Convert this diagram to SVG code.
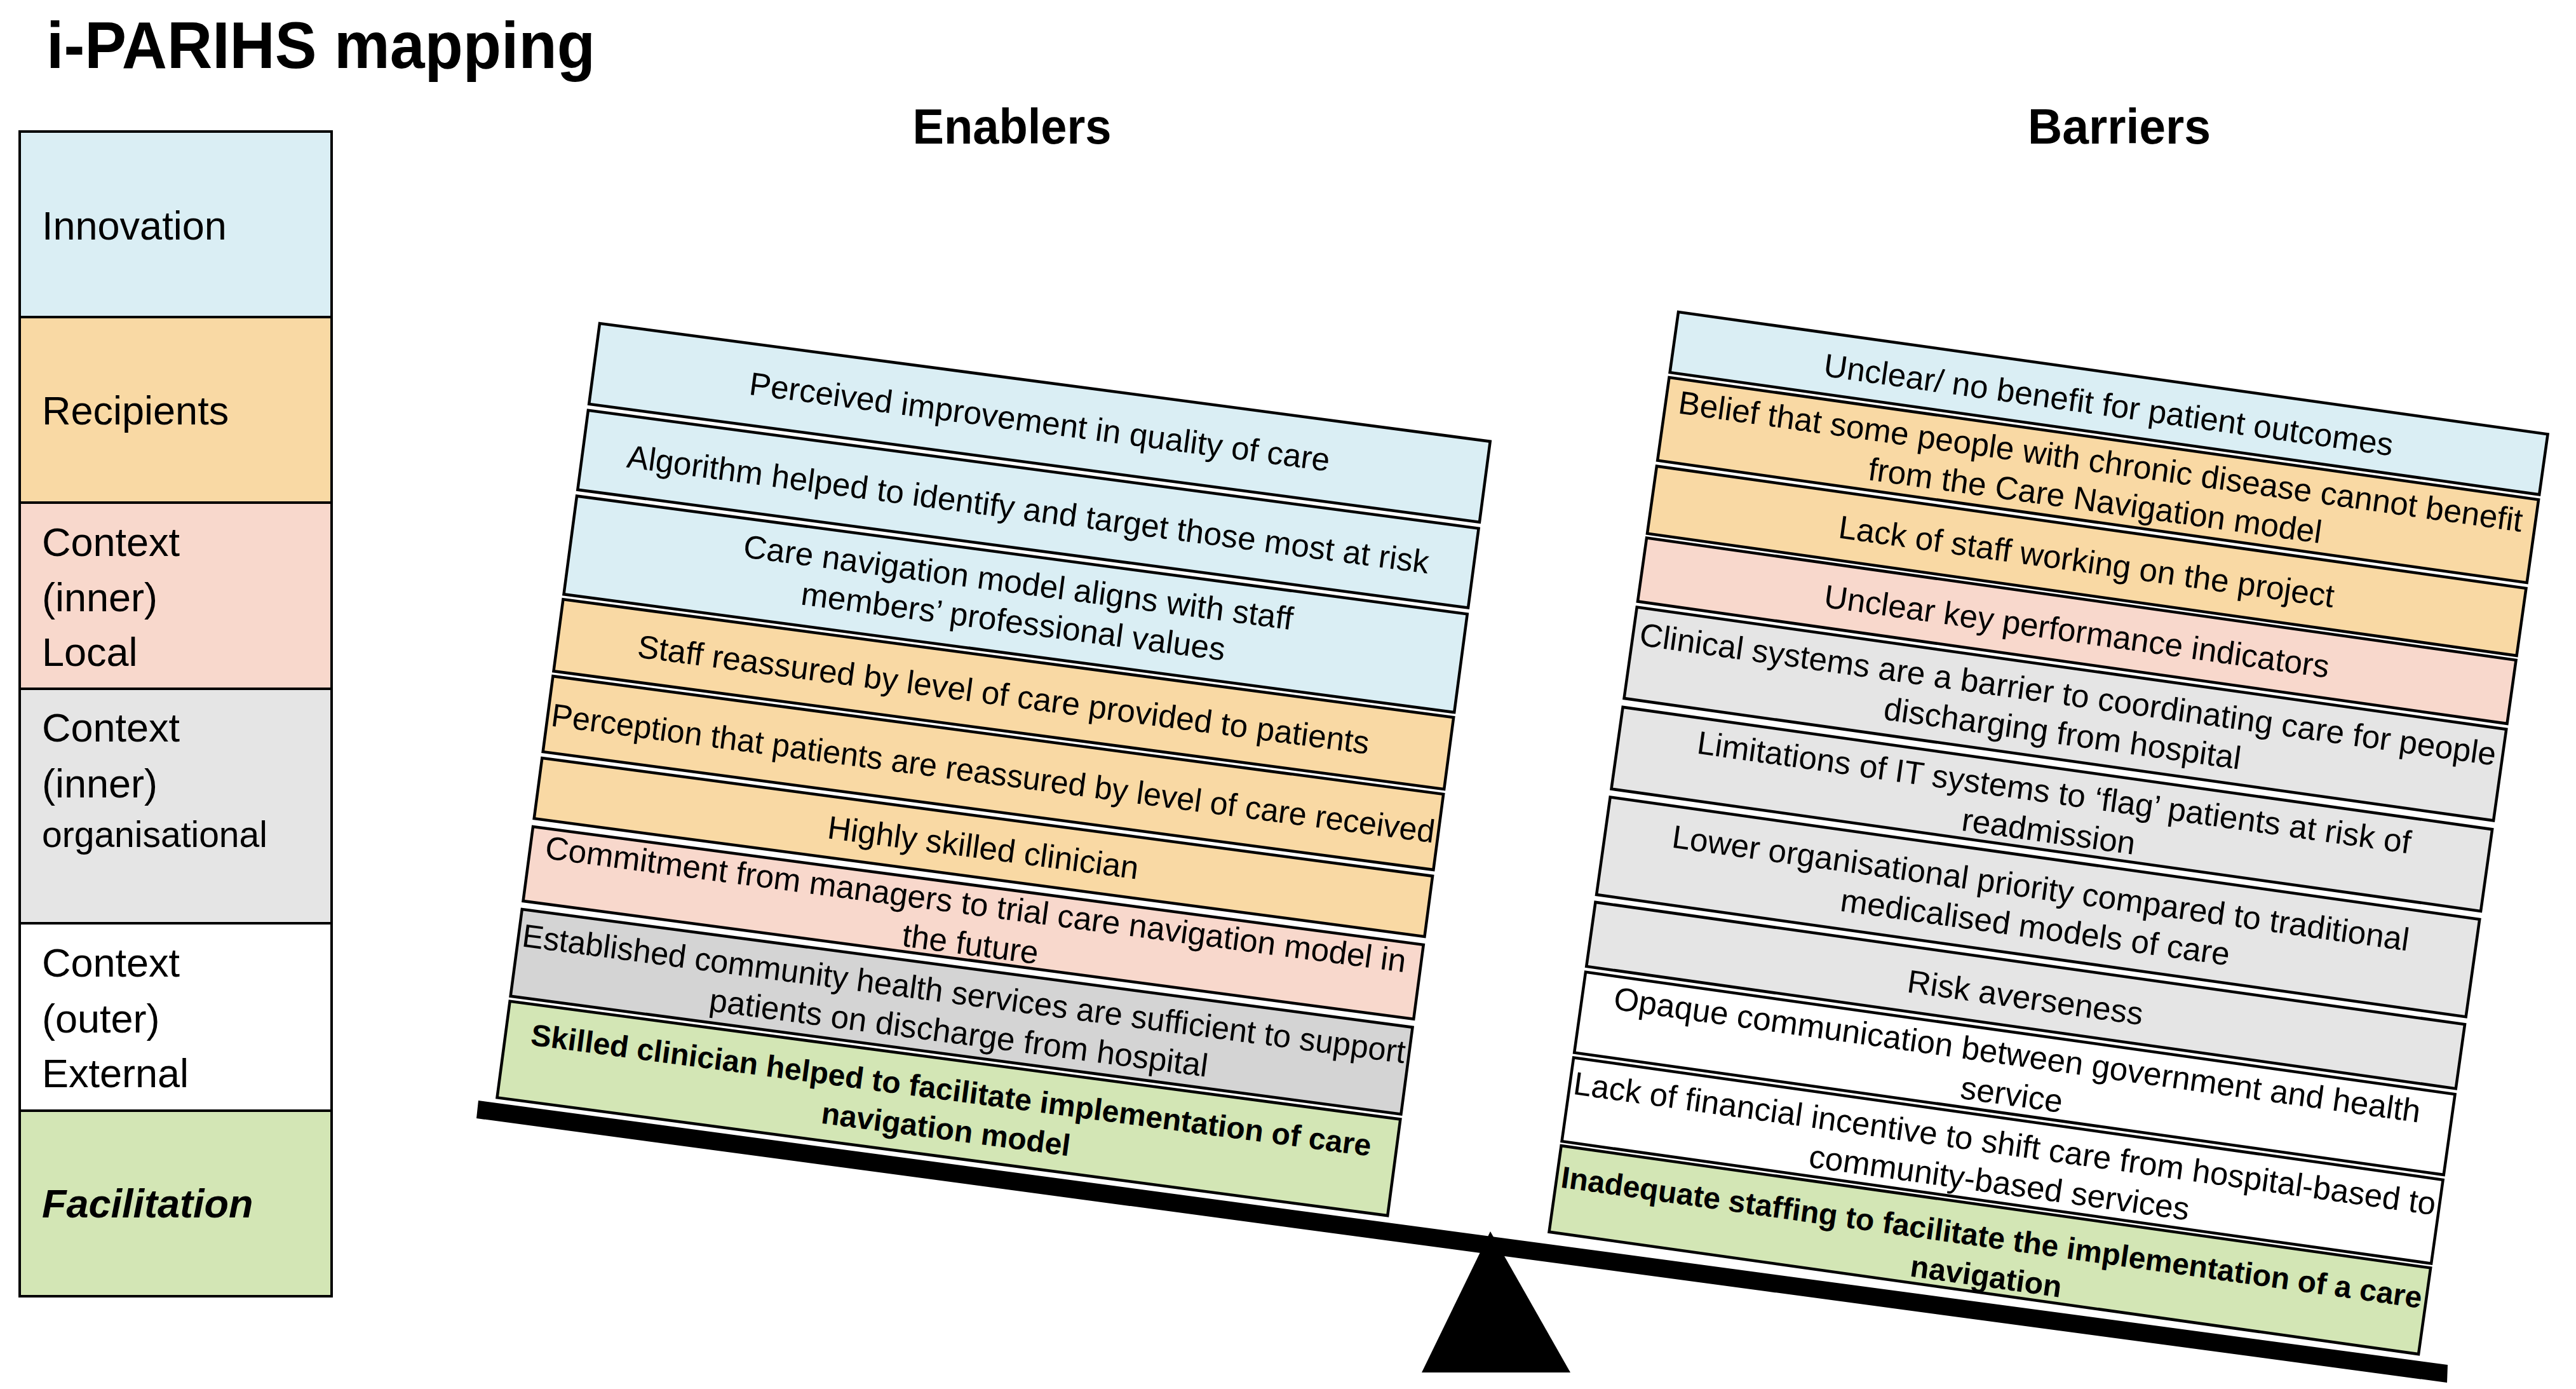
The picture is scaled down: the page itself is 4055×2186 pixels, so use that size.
<svg xmlns="http://www.w3.org/2000/svg" width="4055" height="2186" viewBox="0 0 4055 2186">
<style>
text{font-family:"Liberation Sans",Arial,sans-serif;fill:#000}
.title{font-size:104px;font-weight:bold}
.head{font-size:78px;font-weight:bold;text-anchor:middle}
.leg{font-size:63px}
.leg-s{font-size:57px}
.leg-b{font-size:63px;font-weight:bold;font-style:italic}
.box{stroke:#000;stroke-width:4.5}
.lbox{stroke:#000;stroke-width:4}
.t{font-size:51px;text-anchor:middle}
.tb{font-size:48px;font-weight:bold;text-anchor:middle}
.inn{fill:#DAEEF4}
.rec{fill:#F9D9A4}
.loc{fill:#F8D8CC}
.org{fill:#E5E5E5}
.org2{fill:#D4D4D4}
.ext{fill:#FFFFFF}
.fac{fill:#D3E6B5}
</style>
<rect width="4055" height="2186" fill="#fff"/>
<text class="title" x="73" y="107" textLength="864" lengthAdjust="spacingAndGlyphs">i-PARIHS mapping</text>
<text class="head" x="1593" y="226" textLength="313" lengthAdjust="spacingAndGlyphs">Enablers</text>
<text class="head" x="3336" y="226" textLength="288" lengthAdjust="spacingAndGlyphs">Barriers</text>

<g id="legend">
  <g id="leg-innovation"><rect class="lbox inn" x="31" y="207" width="491" height="292"/><text class="leg" x="66" y="377">Innovation</text></g>
  <g id="leg-recipients"><rect class="lbox rec" x="31" y="499" width="491" height="292"/><text class="leg" x="66" y="668">Recipients</text></g>
  <g id="leg-local"><rect class="lbox loc" x="31" y="791" width="491" height="293"/><text class="leg" x="66" y="875">Context</text><text class="leg" x="66" y="962">(inner)</text><text class="leg" x="66" y="1048">Local</text></g>
  <g id="leg-organisational"><rect class="lbox org" x="31" y="1084" width="491" height="369"/><text class="leg" x="66" y="1167">Context</text><text class="leg" x="66" y="1255">(inner)</text><text class="leg-s" x="66" y="1333">organisational</text></g>
  <g id="leg-external"><rect class="lbox ext" x="31" y="1453" width="491" height="295"/><text class="leg" x="66" y="1537">Context</text><text class="leg" x="66" y="1625">(outer)</text><text class="leg" x="66" y="1711">External</text></g>
  <g id="leg-facilitation"><rect class="lbox fac" x="31" y="1748" width="491" height="292"/><text class="leg-b" x="66" y="1916">Facilitation</text></g>
</g>

<g id="balance">
  <polygon points="2346,1938 2238,2160 2472,2160" fill="#000"/>
  <polygon points="753,1732 3853,2148 3852,2176 750,1760" fill="#000"/>
</g>

<g id="enablers" transform="translate(944,509) rotate(7.55)">
  <g id="e1"><rect class="box inn" x="0" y="0" width="1414" height="128"/><text class="t" x="707" y="80">Perceived improvement in quality of care</text></g>
  <g id="e2"><rect class="box inn" x="0" y="138" width="1414" height="126"/><text class="t" x="707" y="219">Algorithm helped to identify and target those most at risk</text></g>
  <g id="e3"><rect class="box inn" x="0" y="274" width="1414" height="156"/><text class="t" x="707" y="335">Care navigation model aligns with staff</text><text class="t" x="707" y="397">members’ professional values</text></g>
  <g id="e4"><rect class="box rec" x="0" y="438" width="1414" height="114"/><text class="t" x="707" y="513">Staff reassured by level of care provided to patients</text></g>
  <g id="e5"><rect class="box rec" x="0" y="560" width="1414" height="120"/><text class="t" x="707" y="638" textLength="1402" lengthAdjust="spacingAndGlyphs">Perception that patients are reassured by level of care received</text></g>
  <g id="e6"><rect class="box rec" x="0" y="690" width="1414" height="96"/><text class="t" x="707" y="756">Highly skilled clinician</text></g>
  <g id="e7"><rect class="box loc" x="0" y="799" width="1414" height="118"/><text class="t" x="707" y="846">Commitment from managers to trial care navigation model in</text><text class="t" x="707" y="909">the future</text></g>
  <g id="e8"><rect class="box org2" x="0" y="930" width="1414" height="138"/><text class="t" x="707" y="988" textLength="1402" lengthAdjust="spacingAndGlyphs">Established community health services are sufficient to support</text><text class="t" x="707" y="1050">patients on discharge from hospital</text></g>
  <g id="e9"><rect class="box fac" x="0" y="1076" width="1414" height="153"/><text class="tb" x="707" y="1140">Skilled clinician helped to facilitate implementation of care</text><text class="tb" x="707" y="1202">navigation model</text></g>
</g>

<g id="barriers" transform="translate(2642,491) rotate(8)">
  <g id="b1"><rect class="box inn" x="0" y="0" width="1382" height="96"/><text class="t" x="691" y="68">Unclear/ no benefit for patient outcomes</text></g>
  <g id="b2"><rect class="box rec" x="0" y="104" width="1382" height="132"/><text class="t" x="691" y="158">Belief that some people with chronic disease cannot benefit</text><text class="t" x="691" y="220">from the Care Navigation model</text></g>
  <g id="b3"><rect class="box rec" x="0" y="245" width="1382" height="107"/><text class="t" x="691" y="317">Lack of staff working on the project</text></g>
  <g id="b4"><rect class="box loc" x="0" y="359" width="1382" height="101"/><text class="t" x="691" y="428">Unclear key performance indicators</text></g>
  <g id="b5"><rect class="box org" x="0" y="469" width="1382" height="145"/><text class="t" x="691" y="528">Clinical systems are a barrier to coordinating care for people</text><text class="t" x="691" y="590">discharging from hospital</text></g>
  <g id="b6"><rect class="box org" x="0" y="628" width="1382" height="130"/><text class="t" x="691" y="684">Limitations of IT systems to ‘flag’ patients at risk of</text><text class="t" x="691" y="746">readmission</text></g>
  <g id="b7"><rect class="box org" x="0" y="771" width="1382" height="155"/><text class="t" x="691" y="836">Lower organisational priority compared to traditional</text><text class="t" x="691" y="898">medicalised models of care</text></g>
  <g id="b8"><rect class="box org" x="0" y="938" width="1382" height="102"/><text class="t" x="691" y="1010">Risk averseness</text></g>
  <g id="b9"><rect class="box ext" x="0" y="1049" width="1382" height="128"/><text class="t" x="691" y="1101">Opaque communication between government and health</text><text class="t" x="691" y="1164">service</text></g>
  <g id="b10"><rect class="box ext" x="0" y="1185" width="1382" height="133"/><text class="t" x="691" y="1242" textLength="1370" lengthAdjust="spacingAndGlyphs">Lack of financial incentive to shift care from hospital-based to</text><text class="t" x="691" y="1304">community-based services</text></g>
  <g id="b11"><rect class="box fac" x="0" y="1325" width="1382" height="137"/><text class="tb" x="691" y="1390" textLength="1368" lengthAdjust="spacingAndGlyphs">Inadequate staffing to facilitate the implementation of a care</text><text class="tb" x="691" y="1452">navigation</text></g>
</g>
</svg>
